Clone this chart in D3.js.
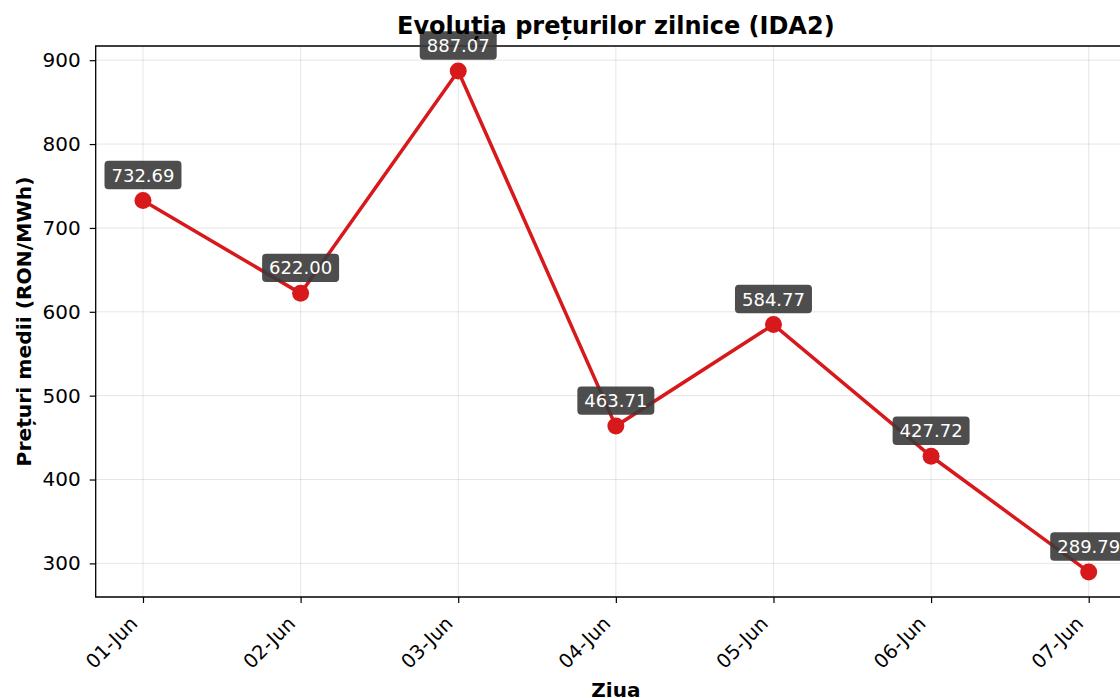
<!DOCTYPE html>
<html>
<head>
<meta charset="utf-8">
<script src="https://cdn.jsdelivr.net/npm/d3@7"></script>
<style>
  body { margin: 0; background: #fff; }
  svg { display: block; font-family: "DejaVu Sans", sans-serif; }
  .grid line { stroke: #000; stroke-opacity: 0.1; stroke-width: 1; }
  .tick text { fill: #000; }
</style>
</head>
<body>
<div id="chart"></div>
<script>
const days = ["01-Jun", "02-Jun", "03-Jun", "04-Jun", "05-Jun", "06-Jun", "07-Jun"];
const prices = [732.69, 622.00, 887.07, 463.71, 584.77, 427.72, 289.79];
const yTicks = [300, 400, 500, 600, 700, 800, 900];

const w = 1120, h = 698,
    margin = { top: 46, left: 95.7, bottom: 597, right: 1136 };
const font = "DejaVu Sans, sans-serif";

const data = days.map((d, i) => ({ day: d, price: prices[i] }));

const xScale = d3.scalePoint()
    .domain(days)
    .range([margin.left, margin.right])
    .padding(0.3);

// matplotlib style 5% margins around the data
const lo = d3.min(prices), hi = d3.max(prices), pad = (hi - lo) * 0.05;
const yScale = d3.scaleLinear()
    .domain([lo - pad, hi + pad])
    .range([margin.bottom, margin.top]);

const svg = d3.select("#chart")
    .append("svg")
    .attr("width", w)
    .attr("height", h);

// grid
const grid = svg.append("g").attr("class", "grid");
grid.selectAll("line.gy")
    .data(yTicks)
    .enter()
    .append("line")
    .attr("class", "gy")
    .attr("x1", margin.left).attr("x2", margin.right)
    .attr("y1", d => yScale(d)).attr("y2", d => yScale(d));

grid.selectAll("line.gx")
    .data(days)
    .enter()
    .append("line")
    .attr("class", "gx")
    .attr("x1", d => xScale(d)).attr("x2", d => xScale(d))
    .attr("y1", margin.top).attr("y2", margin.bottom);

// axes
const xAxis = d3.axisBottom(xScale).tickSize(6).tickPadding(4);
const yAxis = d3.axisLeft(yScale).tickValues(yTicks).tickSize(6).tickPadding(9);

const gx = svg.append("g")
    .attr("transform", "translate(0," + margin.bottom + ")")
    .call(xAxis)
    .attr("font-family", font);
gx.select(".domain").remove();
gx.selectAll(".tick line").attr("stroke", "#000").attr("stroke-width", 1.2);
gx.selectAll(".tick text")
    .style("font-size", "19.5px")
    .attr("text-anchor", "end")
    .attr("y", 0).attr("dy", "0.35em")
    .attr("transform", "translate(-9.5,23) rotate(-45)");

const gy = svg.append("g")
    .attr("transform", "translate(" + margin.left + ",0)")
    .call(yAxis)
    .attr("font-family", font);
gy.select(".domain").remove();
gy.selectAll(".tick line").attr("stroke", "#000").attr("stroke-width", 1.2);
gy.selectAll(".tick text").style("font-size", "20px");

// spines
svg.append("path")
    .attr("d", `M${margin.right},${margin.top}H${margin.left}V${margin.bottom}H${margin.right}`)
    .attr("fill", "none")
    .attr("stroke", "#000")
    .attr("stroke-width", 1.3);

// line + markers
const line = d3.line()
    .x(d => xScale(d.day))
    .y(d => yScale(d.price));

svg.append("path")
    .datum(data)
    .attr("d", line)
    .attr("fill", "none")
    .attr("stroke", "#d7191c")
    .attr("stroke-width", 3.5);

svg.selectAll("circle.dot")
    .data(data)
    .enter()
    .append("circle")
    .attr("class", "dot")
    .attr("cx", d => xScale(d.day))
    .attr("cy", d => yScale(d.price))
    .attr("r", 8.5)
    .attr("fill", "#d7191c");

// value labels
const labels = svg.selectAll("g.lab")
    .data(data)
    .enter()
    .append("g")
    .attr("class", "lab")
    .attr("transform", d => "translate(" + xScale(d.day) + "," + (yScale(d.price) - 25.5) + ")");

labels.append("text")
    .text(d => d.price.toFixed(2))
    .attr("text-anchor", "middle")
    .attr("dy", "0.36em")
    .attr("fill", "#fff")
    .style("font-size", "18px")
    .each(function () {
        const b = this.getBBox();
        d3.select(this.parentNode).insert("rect", "text")
            .attr("x", b.x - 7).attr("y", -14.2)
            .attr("width", b.width + 14).attr("height", 28.4)
            .attr("rx", 4)
            .attr("fill", "#3a3a3a")
            .attr("fill-opacity", 0.9);
    });

// titles
svg.append("text")
    .attr("x", (margin.left + margin.right) / 2)
    .attr("y", 34)
    .attr("text-anchor", "middle")
    .style("font-size", "24px")
    .style("font-weight", "bold")
    .text("Evoluția prețurilor zilnice (IDA2)");

svg.append("text")
    .attr("transform", "translate(31," + ((margin.top + margin.bottom) / 2) + ") rotate(-90)")
    .attr("text-anchor", "middle")
    .style("font-size", "20.3px")
    .style("font-weight", "bold")
    .text("Prețuri medii (RON/MWh)");

svg.append("text")
    .attr("x", (margin.left + margin.right) / 2)
    .attr("y", 697)
    .attr("text-anchor", "middle")
    .style("font-size", "20px")
    .style("font-weight", "bold")
    .text("Ziua");
</script>
</body>
</html>
